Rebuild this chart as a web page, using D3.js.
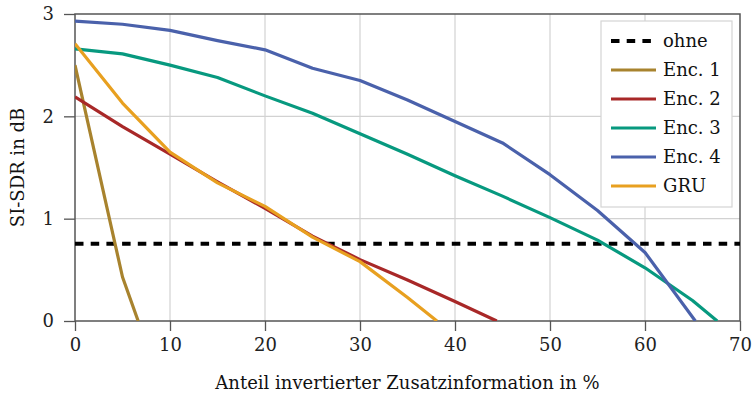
<!DOCTYPE html>
<html>
<head>
<meta charset="utf-8">
<script src="https://cdn.jsdelivr.net/npm/d3@7"></script>
<style>
  body { margin: 0; background: #fff; }
  svg { display: block; font-family: "DejaVu Serif", serif; }
</style>
</head>
<body>
<svg id="chart" width="753" height="396"></svg>
<script>
// data
const xTicks = [0, 10, 20, 30, 40, 50, 60, 70]
const yTicks = [0, 1, 2, 3]
const ohneValue = 0.755

const enc1 = [[0, 2.5], [5, 0.43], [6.65, 0]]
const enc2 = [[0, 2.19], [5, 1.9], [10, 1.63], [15, 1.36], [20, 1.1], [25, 0.83], [30, 0.6], [35, 0.4], [40, 0.19], [44.4, 0]]
const enc3 = [[0, 2.66], [5, 2.61], [10, 2.5], [15, 2.38], [20, 2.2], [25, 2.03], [30, 1.83], [35, 1.63], [40, 1.42], [45, 1.22], [50, 1.01], [55, 0.79], [60, 0.52], [65, 0.2], [67.6, 0]]
const enc4 = [[0, 2.93], [5, 2.9], [10, 2.84], [15, 2.74], [20, 2.65], [25, 2.47], [30, 2.35], [35, 2.16], [40, 1.95], [45, 1.74], [50, 1.43], [55, 1.08], [60, 0.67], [65.3, 0]]
const gru = [[0, 2.71], [5, 2.13], [10, 1.65], [15, 1.35], [20, 1.12], [25, 0.82], [30, 0.58], [35, 0.23], [38.1, 0]]

const series = [
  { name: "Enc. 1", values: enc1, color: "#a8832e" },
  { name: "Enc. 2", values: enc2, color: "#a82828" },
  { name: "Enc. 3", values: enc3, color: "#07997f" },
  { name: "Enc. 4", values: enc4, color: "#4a61ab" },
  { name: "GRU", values: gru, color: "#e8a020" }
]

const svg = d3.select("#chart")
const margin = { left: 75, right: 13, top: 14, bottom: 75 }
const width = 753 - margin.left - margin.right
const height = 396 - margin.top - margin.bottom
const fontSize = 18

const x = d3.scaleLinear().domain([0, 70]).range([0, width])
const y = d3.scaleLinear().domain([0, 3]).range([height, 0])

const g = svg.append("g").attr("transform", `translate(${margin.left},${margin.top})`)

// grid
g.append("g").selectAll("line")
  .data(xTicks.slice(1, -1))
  .enter().append("line")
  .attr("x1", d => x(d)).attr("x2", d => x(d))
  .attr("y1", 0).attr("y2", height)
  .attr("stroke", "#d2d2d2").attr("stroke-width", 1.2)
g.append("g").selectAll("line")
  .data(yTicks.slice(1, -1))
  .enter().append("line")
  .attr("x1", 0).attr("x2", width)
  .attr("y1", d => y(d)).attr("y2", d => y(d))
  .attr("stroke", "#d2d2d2").attr("stroke-width", 1.2)

// axes
const xAxis = g.append("g")
  .attr("transform", `translate(0,${height})`)
  .call(d3.axisBottom(x).tickValues(xTicks).tickFormat(d3.format("d")).tickSize(10).tickPadding(7).tickSizeOuter(0))
const yAxis = g.append("g")
  .call(d3.axisLeft(y).tickValues(yTicks).tickFormat(d3.format("d")).tickSize(11).tickPadding(10).tickSizeOuter(0))
for (const ax of [xAxis, yAxis]) {
  ax.select(".domain").remove()
  ax.selectAll("line").attr("stroke", "#555").attr("stroke-width", 1.3)
  ax.selectAll("text").attr("font-size", fontSize).attr("fill", "#222")
    .style("font-family", "DejaVu Serif, serif")
}

// frame
g.append("rect")
  .attr("width", width).attr("height", height)
  .attr("fill", "none").attr("stroke", "#555").attr("stroke-width", 1.5)

// clip so line joins stay inside the box
g.append("clipPath").attr("id", "clip")
  .append("rect").attr("x", 0).attr("y", -2).attr("width", width).attr("height", height + 2)

const line = d3.line().x(d => x(d[0])).y(d => y(d[1]))
const plot = g.append("g").attr("clip-path", "url(#clip)")

plot.append("line")
  .attr("x1", 0).attr("x2", width)
  .attr("y1", y(ohneValue)).attr("y2", y(ohneValue))
  .attr("stroke", "#000").attr("stroke-width", 4)
  .attr("stroke-dasharray", "8.5,7.2")

plot.selectAll(".series")
  .data(series)
  .enter().append("path")
  .attr("class", "series")
  .attr("d", d => line(d.values))
  .attr("fill", "none")
  .attr("stroke", d => d.color)
  .attr("stroke-width", 3.2)
  .attr("stroke-linejoin", "round")

// legend
const legendData = [{ name: "ohne", color: "#000", dashed: true }].concat(series)
const legend = svg.append("g").attr("transform", "translate(601,21)")
legend.append("rect")
  .attr("width", 131).attr("height", 186)
  .attr("fill", "#fff").attr("stroke", "#d4d4d4").attr("stroke-width", 1.2)
const items = legend.selectAll(".legend-item")
  .data(legendData)
  .enter().append("g")
  .attr("class", "legend-item")
  .attr("transform", (d, i) => `translate(0, ${20 + i * 29})`)
items.append("line")
  .attr("x1", 10).attr("x2", d => d.dashed ? 50 : 55)
  .attr("y1", 0).attr("y2", 0)
  .attr("stroke", d => d.color)
  .attr("stroke-width", d => d.dashed ? 4 : 3.2)
  .attr("stroke-dasharray", d => d.dashed ? "8.5,7.2" : null)
items.append("text")
  .attr("x", 62).attr("y", 6)
  .attr("font-size", fontSize).attr("fill", "#111")
  .text(d => d.name)

// axis titles
svg.append("text")
  .attr("x", margin.left + width / 2 - 0).attr("y", 389)
  .attr("text-anchor", "middle")
  .attr("font-size", fontSize).attr("fill", "#111")
  .text("Anteil invertierter Zusatzinformation in %")
svg.append("text")
  .attr("transform", `translate(24,${margin.top + height / 2}) rotate(-90)`)
  .attr("text-anchor", "middle")
  .attr("font-size", fontSize).attr("fill", "#111")
  .text("SI-SDR in dB")
</script>
</body>
</html>
